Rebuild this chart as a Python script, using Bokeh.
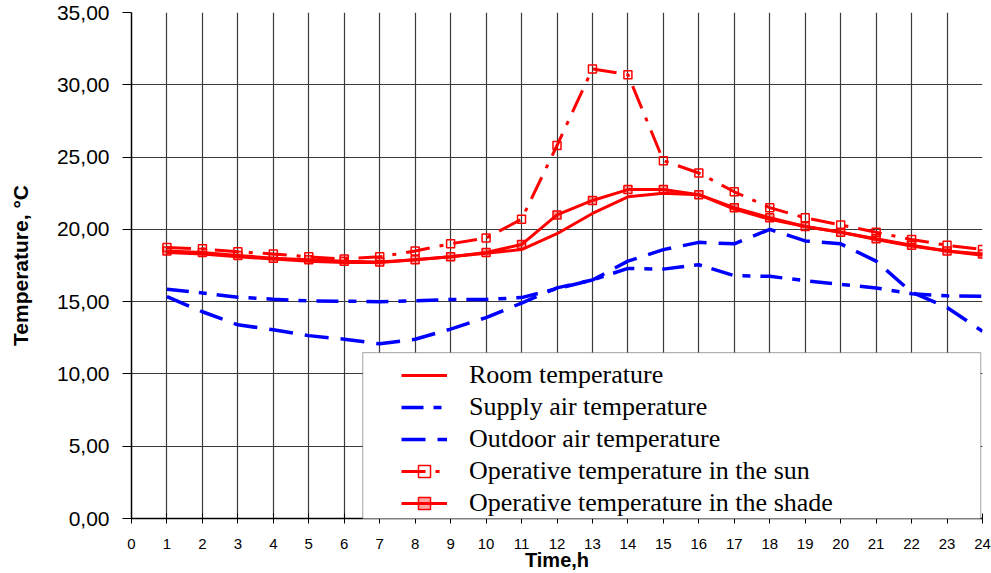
from bokeh.plotting import figure
from bokeh.models import (FixedTicker, Legend, LegendItem, BoxAnnotation, ColumnDataSource)
from bokeh.embed import file_html
from bokeh.resources import INLINE

# ---- data ----
hours = list(range(1, 25))
room = [18.4, 18.3, 18.1, 17.95, 17.8, 17.7, 17.7, 17.9, 18.1, 18.35, 18.6, 19.7,
        21.1, 22.25, 22.5, 22.4, 21.4, 20.7, 20.2, 19.8, 19.3, 18.85, 18.5, 18.2]
supply_air = [15.86, 15.6, 15.3, 15.17, 15.05, 15.03, 15.0, 15.05, 15.15, 15.15, 15.28, 15.9,
              16.5, 17.3, 17.25, 17.55, 16.8, 16.75, 16.45, 16.2, 15.95, 15.55, 15.4, 15.37]
outdoor_air = [15.35, 14.3, 13.4, 13.05, 12.65, 12.4, 12.08, 12.4, 13.1, 13.9, 14.9, 15.95,
               16.5, 17.8, 18.6, 19.1, 19.0, 20.0, 19.2, 19.0, 17.8, 15.65, 14.6, 12.95]
operative_sun = [18.75, 18.65, 18.45, 18.3, 18.1, 17.95, 18.1, 18.5, 19.0, 19.4, 20.7, 25.8,
                 31.1, 30.7, 24.75, 23.9, 22.6, 21.5, 20.8, 20.3, 19.8, 19.3, 18.9, 18.6]
operative_shade = [18.5, 18.4, 18.2, 18.0, 17.9, 17.8, 17.75, 17.9, 18.1, 18.4, 18.95, 21.0,
                   22.0, 22.75, 22.75, 22.4, 21.5, 20.8, 20.2, 19.8, 19.35, 18.9, 18.5, 18.3]

x_ticks = list(range(0, 25))
y_ticks = [0, 5, 10, 15, 20, 25, 30, 35]
y_tick_labels = ["0,00", "5,00", "10,00", "15,00", "20,00", "25,00", "30,00", "35,00"]

series_names = ["Room temperature", "Supply air temperature", "Outdoor air temperature",
                "Operative temperature in the sun", "Operative temperature in the shade"]

src = ColumnDataSource(dict(h=hours, room=room, supply=supply_air, outdoor=outdoor_air,
                            sun=operative_sun, shade=operative_shade))

p = figure(width=991, height=573, output_backend="svg", toolbar_location=None,
           x_range=(0, 24), y_range=(0, 35),
           min_border_left=131, min_border_right=9, min_border_top=12, min_border_bottom=55)
p.outline_line_color = None
p.background_fill_color = "white"
p.border_fill_color = "white"

# axes
p.xaxis.ticker = FixedTicker(ticks=x_ticks)
p.yaxis.ticker = FixedTicker(ticks=y_ticks)
p.yaxis.major_label_overrides = {t: l for t, l in zip(y_ticks, y_tick_labels)}
p.xaxis.axis_label = "Time,h"
p.yaxis.axis_label = "Temperature, °C"
for ax in (p.xaxis, p.yaxis):
    ax.axis_line_color = "black"
    ax.axis_line_width = 1.5
    ax.major_tick_line_color = "black"
    ax.minor_tick_line_color = None
    ax.major_label_text_color = "black"
    ax.axis_label_text_color = "black"
    ax.axis_label_text_font = "Liberation Sans"
    ax.major_label_text_font = "Liberation Sans"
    ax.axis_label_text_font_style = "bold"
p.xaxis.major_tick_in = 5
p.xaxis.major_tick_out = 5
p.xaxis.major_label_text_font_size = "15px"
p.xaxis.major_label_standoff = 15
p.xaxis.axis_label_text_font_size = "20px"
p.xaxis.axis_label_standoff = -3
p.yaxis.major_tick_in = 0
p.yaxis.major_tick_out = 9
p.yaxis.major_label_text_font_size = "21px"
p.yaxis.major_label_standoff = 13
p.yaxis.axis_label_text_font_size = "21px"
p.yaxis.axis_label_standoff = 22

p.xgrid.grid_line_color = "#3a3a3a"
p.ygrid.grid_line_color = "#3a3a3a"
p.xgrid.grid_line_width = 1.2
p.ygrid.grid_line_width = 1.2

# series
r_out = p.line("h", "outdoor", source=src, color="#0000FF", line_width=3.5, line_dash="24 12")
r_sup = p.line("h", "supply", source=src, color="#0000FF", line_width=3.5, line_dash="22 10 8 10")
r_room = p.line("h", "room", source=src, color="#FF0000", line_width=3)
r_sun = p.line("h", "sun", source=src, color="#FF0000", line_width=3, line_dash="24 10 4 10")
r_sun_m = p.scatter("h", "sun", source=src, marker="square", size=8, line_color="#FF0000",
                    line_width=1.5, fill_color="white", fill_alpha=0.0)
r_shade = p.line("h", "shade", source=src, color="#FF0000", line_width=3)
r_shade_m = p.scatter("h", "shade", source=src, marker="square", size=8, line_color="#FF0000",
                      line_width=1.5, fill_color="#FF0000", fill_alpha=0.35)

# legend frame
box = BoxAnnotation(left=6.52, right=23.95, bottom=-0.45, top=11.48,
                    fill_color="white", fill_alpha=1.0,
                    line_color="black", line_width=1.2, level="annotation")
p.add_layout(box)

legend = Legend(items=[
    LegendItem(label=series_names[0], renderers=[r_room]),
    LegendItem(label=series_names[1], renderers=[r_sup]),
    LegendItem(label=series_names[2], renderers=[r_out]),
    LegendItem(label=series_names[3], renderers=[r_sun, r_sun_m]),
    LegendItem(label=series_names[4], renderers=[r_shade, r_shade_m]),
], location=(270, 0))
legend.padding = 0
legend.margin = 0
legend.spacing = 2
legend.glyph_width = 46
legend.glyph_height = 30
legend.label_height = 30
legend.label_standoff = 22
legend.label_text_font = "Liberation Serif"
legend.label_text_font_size = "26px"
legend.label_text_color = "black"
legend.border_line_alpha = 0
legend.background_fill_alpha = 0
p.add_layout(legend, "center")

open("out.html", "w").write(file_html(p, INLINE))
